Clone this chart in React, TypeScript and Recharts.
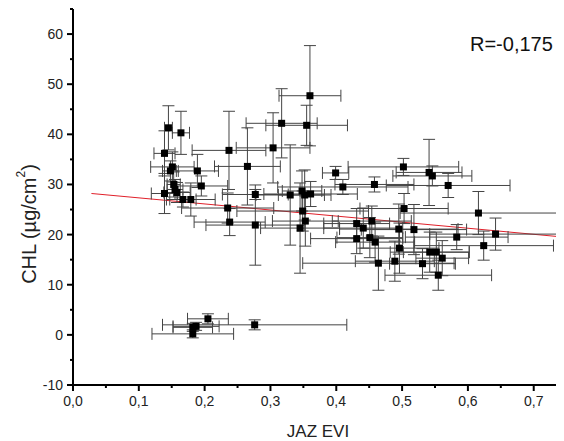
import React from 'react';
import {
  ScatterChart,
  Scatter,
  XAxis,
  YAxis,
  ErrorBar,
  ReferenceLine,
} from 'recharts';

// JAZ EVI values (x) with their errors
const evi = [
  0.145, 0.164, 0.139, 0.237, 0.151, 0.148, 0.189, 0.195, 0.153, 0.155,
  0.158, 0.139, 0.167, 0.179, 0.235, 0.238, 0.277, 0.277, 0.205, 0.187,
  0.182, 0.182, 0.276, 0.36, 0.317, 0.355, 0.304, 0.265, 0.399, 0.502,
  0.541, 0.546, 0.41, 0.458, 0.57, 0.33, 0.348, 0.352, 0.361, 0.349,
  0.353, 0.345, 0.431, 0.441, 0.454, 0.503, 0.431, 0.451, 0.459, 0.495,
  0.518, 0.496, 0.542, 0.552, 0.464, 0.489, 0.531, 0.555, 0.561, 0.616,
  0.583, 0.642, 0.624,
];
const eviErr = [
  0.006, 0.013, 0.016, 0.056, 0.033, 0.012, 0.032, 0.04, 0.01, 0.012,
  0.02, 0.02, 0.02, 0.037, 0.07, 0.054, 0.075, 0.05, 0.031, 0.035,
  0.03, 0.062, 0.14, 0.047, 0.054, 0.062, 0.056, 0.05, 0.02, 0.084,
  0.05, 0.06, 0.099, 0.06, 0.094, 0.052, 0.03, 0.04, 0.071, 0.1,
  0.05, 0.06, 0.05, 0.06, 0.06, 0.067, 0.07, 0.05, 0.06, 0.09,
  0.08, 0.06, 0.06, 0.05, 0.115, 0.06, 0.05, 0.081, 0.04, 0.119,
  0.078, 0.1, 0.106,
];
// CHL values (y) with their errors
const chl = [
  41.3, 40.3, 36.2, 36.8, 33.5, 32.7, 32.7, 29.7, 30.0, 29.0,
  28.4, 28.2, 27.0, 27.0, 25.3, 22.5, 21.9, 28.0, 3.2, 1.7,
  1.5, 0.2, 2.0, 47.7, 42.2, 41.8, 37.3, 33.6, 32.3, 33.5,
  32.4, 31.7, 29.5, 30.0, 29.8, 27.9, 28.7, 27.9, 28.1, 24.7,
  22.7, 21.3, 22.2, 21.3, 22.7, 25.2, 19.2, 19.4, 18.5, 21.1,
  21.0, 17.3, 16.5, 16.5, 14.3, 14.7, 14.2, 11.9, 15.3, 24.3,
  19.5, 20.1, 17.8,
];
const chlErr = [
  4.4, 4.3, 4.5, 7.8, 3, 2, 3.3, 2, 2.5, 2,
  2, 4, 1.5, 3.3, 3, 2.7, 8, 1, 1, 0.8,
  0.8, 0.8, 1, 10, 6.9, 4, 7, 7.7, 1.3, 1.7,
  6.6, 2, 1.5, 1.5, 2.4, 10, 4, 5, 2.5, 4,
  5, 9, 3, 4, 3, 3, 3, 4, 4, 5,
  5, 5, 4, 4, 5.4, 4, 3, 3, 3.5, 4.3,
  2.5, 3.2, 2.9,
];

// linear fit end points
const fitX = [0.028, 0.746];
const fitY = [28.2, 19.5];

const xTicks = [0, 0.05, 0.1, 0.15, 0.2, 0.25, 0.3, 0.35, 0.4, 0.45, 0.5, 0.55, 0.6, 0.65, 0.7];
const yTicks = [-10, -5, 0, 5, 10, 15, 20, 25, 30, 35, 40, 45, 50, 55, 60, 65];

const points = evi.map((x, i) => ({ x, y: chl[i], xe: eviErr[i], ye: chlErr[i] }));

const FONT = '"Liberation Sans", Arial, sans-serif';

const XTick = ({ x, y, payload }: any) => {
  const major = Math.round(payload.value * 100) % 10 === 0;
  return (
    <g>
      <line x1={x} x2={x} y1={y} y2={y + (major ? 6 : 3)} stroke="#000" strokeWidth={2} />
      {major && (
        <text x={x} y={y + 21} textAnchor="middle" fontSize={14} fill="#222" fontFamily={FONT}>
          {payload.value.toFixed(1).replace('.', ',')}
        </text>
      )}
    </g>
  );
};

const YTick = ({ x, y, payload }: any) => {
  const major = payload.value % 10 === 0;
  return (
    <g>
      <line x1={x} x2={x - (major ? 6 : 3)} y1={y} y2={y} stroke="#000" strokeWidth={2} />
      {major && (
        <text x={x - 10} y={y + 5} textAnchor="end" fontSize={14} fill="#222" fontFamily={FONT}>
          {payload.value}
        </text>
      )}
    </g>
  );
};

const XTitle = () => (
  <text x={310} y={429} textAnchor="middle" fontSize={17} fill="#222" fontFamily={FONT}>
    JAZ EVI
  </text>
);

const YTitle = () => (
  <text
    x={21}
    y={216}
    transform="rotate(-90 21 216)"
    textAnchor="middle"
    dominantBaseline="central"
    fontSize={20}
    fill="#222"
    fontFamily={FONT}
  >
    CHL (µg/cm
    <tspan dy={-8} fontSize={12}>2</tspan>
    <tspan dy={8}>)</tspan>
  </text>
);

const Square = (props: any) => {
  const { cx, cy } = props;
  if (cx == null || cy == null) return <g />;
  return <rect x={cx - 3.5} y={cy - 3.5} width={7} height={7} fill="#000" />;
};

export default function App() {
  return (
    <div style={{ position: 'relative', width: 556, height: 433 }}>
      <ScatterChart width={556} height={433} margin={{ top: 1, right: 0, bottom: 0, left: 0 }}>
        <XAxis
          type="number"
          dataKey="x"
          domain={[0, 0.746]}
          ticks={xTicks}
          interval={0}
          allowDataOverflow
          height={56}
          tickLine={false}
          tickSize={0}
          tickMargin={0}
          tick={<XTick />}
          axisLine={{ stroke: '#000', strokeWidth: 2 }}
          label={<XTitle />}
        />
        <YAxis
          type="number"
          dataKey="y"
          domain={[-10, 65]}
          ticks={yTicks}
          interval={0}
          allowDataOverflow
          width={65}
          tickLine={false}
          tickSize={0}
          tickMargin={0}
          tick={<YTick />}
          axisLine={{ stroke: '#000', strokeWidth: 2 }}
          label={<YTitle />}
        />
        <ReferenceLine
          segment={[
            { x: fitX[0], y: fitY[0] },
            { x: fitX[1], y: fitY[1] },
          ]}
          stroke="#e0202a"
          strokeWidth={1}
          ifOverflow="visible"
        />
        <Scatter data={points} shape={<Square />} isAnimationActive={false}>
          <ErrorBar dataKey="xe" direction="x" width={6} stroke="#444" strokeWidth={1} isAnimationActive={false} />
          <ErrorBar dataKey="ye" direction="y" width={6} stroke="#444" strokeWidth={1} isAnimationActive={false} />
        </Scatter>
      </ScatterChart>
      <div
        style={{
          position: 'absolute',
          left: 462,
          top: 26,
          fontFamily: FONT,
          fontSize: 20,
          lineHeight: '20px',
          color: '#111',
          whiteSpace: 'nowrap',
        }}
      >
        R=-0,175
      </div>
    </div>
  );
}
